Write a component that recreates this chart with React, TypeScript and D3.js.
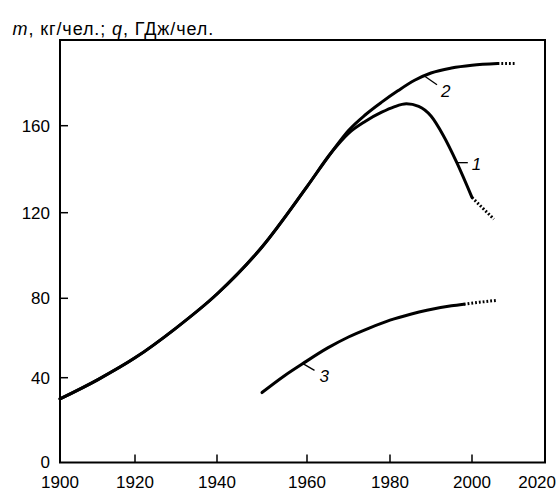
import React from 'react';
import * as d3 from 'd3';

// shared part of curves 1 and 2 (before they split)
const commonYears = [1900, 1910, 1920, 1930, 1940, 1950, 1960, 1966];
const commonValues = [30, 39, 50, 65, 82, 104, 132, 148];

// curve 1
const c1Years = [1970, 1974, 1978, 1981, 1984, 1987, 1990, 1993, 1996.3, 2000];
const c1Values = [156.5, 162, 166.3, 168.8, 170.2, 169, 164.5, 155.5, 143, 127];
const c1DotYears = [2000, 2003, 2006];
const c1DotValues = [127, 122, 117];

// curve 2
const c2Years = [1970, 1974, 1978, 1982, 1986, 1990, 1995, 2000, 2007];
const c2Values = [157.8, 165, 171, 176.4, 181.2, 184.6, 186.9, 188.2, 189];
const c2DotYears = [2007, 2012];
const c2DotValues = [189, 189];

// curve 3
const c3Years = [1950, 1955, 1959, 1965, 1970, 1975, 1980, 1985, 1989, 1995, 1998];
const c3Values = [33, 41, 47, 55, 60.5, 65, 69, 72, 74, 76.2, 77];
const c3DotYears = [1998, 2002, 2007];
const c3DotValues = [77, 78, 79];

const xTicks = [1900, 1920, 1940, 1960, 1980, 2000, 2020];
const yTicks = [0, 40, 80, 120, 160];

// curve labels: anchor point on the curve
const labelNames = ['1', '2', '3'];
const labelYears = [1996.3, 1988.3, 1959];
const labelValues = [143, 183.3, 47.2];

const W = 558;
const H = 493;

// the drawing's grid is hand-made, so the scales follow the drawn ticks
const x = d3.scaleLinear()
  .domain([1900, 1920, 1940, 1960, 1980, 2000, 2020])
  .range([60, 135, 217, 307, 390, 472, 545]);
const y = d3.scaleLinear()
  .domain([0, 40, 80, 120, 160, 200])
  .range([462.5, 377.7, 298.3, 212.7, 125.7, 40]);

const zip = (xs: number[], ys: number[]) => xs.map((d, i) => [d, ys[i]] as [number, number]);

const line = d3.line<[number, number]>()
  .x(d => x(d[0]))
  .y(d => y(d[1]))
  .curve(d3.curveMonotoneX);

const font = '"Liberation Sans", Arial, Helvetica, sans-serif';

export default function App() {
  const common = zip(commonYears, commonValues);
  const solid = [
    line([...common, ...zip(c1Years, c1Values)]),
    line([...common, ...zip(c2Years, c2Values)]),
    line(zip(c3Years, c3Values)),
  ];
  const dotted = [
    line(zip(c1DotYears, c1DotValues)),
    line(zip(c2DotYears, c2DotValues)),
    line(zip(c3DotYears, c3DotValues)),
  ];
  // leader direction for each label
  const leaders = [
    { dx: 11, dy: 0, tx: 15, ty: 7 },
    { dx: 13, dy: 9, tx: 17, ty: 21 },
    { dx: 12, dy: 7, tx: 17, ty: 19 },
  ];

  return (
    <div style={{ position: 'fixed', left: 0, top: 0 }}>
      <svg width={W} height={H} style={{ display: 'block', background: '#fff' }} fontFamily={font}>
        <text x={12.5} y={35} fontSize={18} letterSpacing={0.9} fill="#000">
          <tspan fontStyle="italic">m</tspan>, кг/чел.; <tspan fontStyle="italic">q</tspan>, ГДж/чел.
        </text>

        {/* frame */}
        <rect x={x(1900)} y={y(200)} width={x(2020) - x(1900)} height={y(0) - y(200)}
          fill="none" stroke="#000" strokeWidth={2} />

        {xTicks.slice(1, -1).map(t => (
          <line key={'xt' + t} x1={x(t)} x2={x(t)} y1={y(0)} y2={y(0) - 8} stroke="#000" strokeWidth={1.5} />
        ))}
        {yTicks.slice(1).map(t => (
          <line key={'yt' + t} x1={x(1900)} x2={x(1900) + 8} y1={y(t)} y2={y(t)} stroke="#000" strokeWidth={1.5} />
        ))}

        {xTicks.map((t, i) => (
          <text key={'xl' + t} x={i === xTicks.length - 1 ? W - 2 : x(t)} y={488}
            textAnchor={i === xTicks.length - 1 ? 'end' : 'middle'} fontSize={17} fill="#000">{t}</text>
        ))}
        {yTicks.map(t => (
          <text key={'yl' + t} x={x(1900) - 10} y={y(t)} dy="0.35em"
            textAnchor="end" fontSize={17} fill="#000">{t}</text>
        ))}

        {solid.map((d, i) => (
          <path key={'s' + i} d={d || ''} fill="none" stroke="#000" strokeWidth={3} strokeLinecap="round" />
        ))}
        {dotted.map((d, i) => (
          <path key={'d' + i} d={d || ''} fill="none" stroke="#000" strokeWidth={3}
            strokeDasharray="1.8 2" />
        ))}

        {labelNames.map((n, i) => {
          const px = x(labelYears[i]);
          const py = y(labelValues[i]);
          const l = leaders[i];
          return (
            <g key={'lab' + n}>
              <line x1={px} y1={py} x2={px + l.dx} y2={py + l.dy} stroke="#000" strokeWidth={1.3} />
              <text x={px + l.tx} y={py + l.ty} fontSize={17} fontStyle="italic" fill="#000">{n}</text>
            </g>
          );
        })}
      </svg>
    </div>
  );
}
